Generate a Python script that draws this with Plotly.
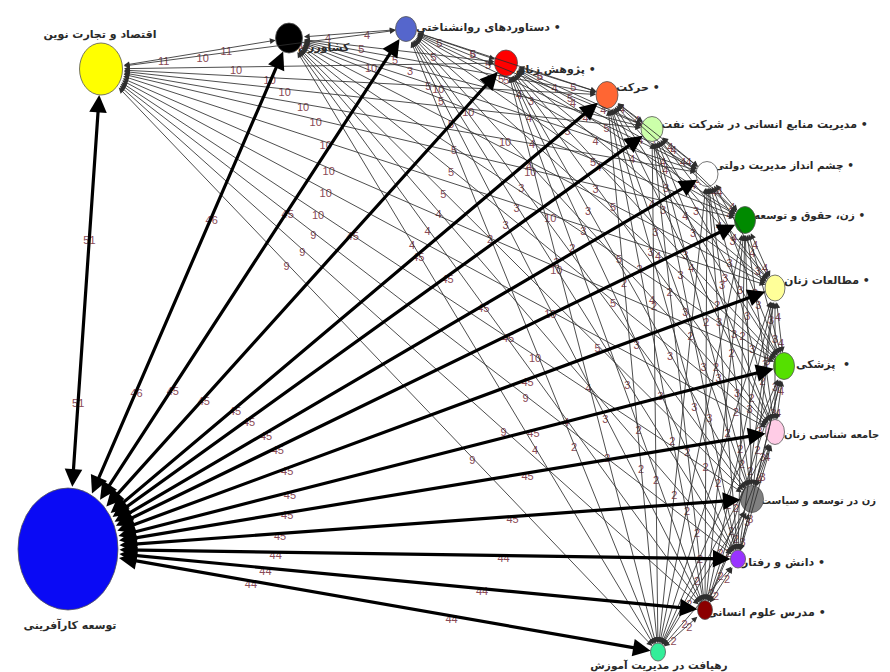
import math
import plotly.graph_objects as go

# ---------------- data ----------------
node_names = [
    "توسعه کارآفرینی",
    "اقتصاد و تجارت نوین",
    "کشاورزی",
    "دستاوردهای روانشناختی",
    "پژوهش زنان",
    "حرکت",
    "مدیریت منابع انسانی در شرکت نفت",
    "چشم انداز مدیریت دولتی",
    "زن، حقوق و توسعه",
    "مطالعات زنان",
    "پزشکی",
    "جامعه شناسی زنان",
    "زن در توسعه و سیاست",
    "دانش و رفتار",
    "مدرس علوم انسانی",
    "رهیافت در مدیریت آموزش",
]
node_suffix = ["", "", "", " •", " •", " •", " •", " •", " •", " •",
               "\u00a0\u00a0•", " •", "", " •", " •", ""]

# weights of the edges between the hub (node 0) and nodes 1..15
hub_weights = [51, 46, 45, 45, 45, 45, 45, 45, 45, 45, 45, 45, 44, 44, 44]

# weights between nodes 1..15 (upper triangle, row i lists i -> i+1 ... 15)
pair_weights = [
    [11, 10, 10, 10, 10, 10, 10, 10, 10, 10, 10, 9, 9, 9],
    [4, 5, 5, 3, 5, 5, 5, 5, 5, 5, 4, 4, 4],
    [5, 5, 5, 5, 4, 4, 4, 4, 3, 3, 3, 2],
    [5, 4, 4, 4, 4, 4, 3, 3, 3, 2, 2],
    [4, 4, 4, 4, 3, 3, 3, 3, 2, 2],
    [4, 4, 4, 3, 3, 3, 3, 2, 2],
    [4, 4, 3, 3, 3, 2, 2, 2],
    [4, 3, 3, 3, 2, 2, 2],
    [4, 3, 3, 2, 2, 2],
    [4, 3, 2, 2, 2],
    [4, 3, 2, 2],
    [3, 2, 2],
    [2, 2],
    [2],
]

# ---------------- layout / style ----------------
node_x = [60, 93, 281, 398, 498, 599, 644, 699, 737, 767, 776, 767, 744, 730, 697, 650]
node_y = [541, 61, 30, 21, 55, 87, 121, 166, 212, 280, 358, 424, 491, 551, 602, 644]
node_w = [100, 43, 27, 21, 23, 22, 22, 22, 21, 20, 21, 19, 23, 15, 15, 15]
node_h = [122, 52, 30, 25, 26, 27, 25, 25, 27, 26, 27, 25, 27, 18, 19, 18]
node_colors = ["#0a0af5", "#ffff00", "#000000", "#5566cc", "#ff0000", "#ff6633",
               "#ccffaa", "#ffffff", "#008a00", "#ffff99", "#55e000", "#ffcce6",
               "#808080", "#9933ff", "#8b0000", "#33ee99"]
label_x = [62, 92, 290, 408, 508, 608, 653, 706, 746, 776, 788, 776, 753, 734, 699, 651]
label_y = [618, 27, 40, 20, 62, 80, 117, 158, 208, 273, 357, 427, 493, 555, 605, 658]
label_size = [11, 11, 11, 11, 11, 11, 11, 10.5, 10.5, 11, 11, 10, 10, 11, 11, 10.5]
label_pos = ["middle center", "middle center"] + ["middle right"] * 13 + ["middle center"]

EDGE_LABEL_COLOR = "#8a4a56"


def radius(i, dx, dy):
    a = node_w[i] / 2.0
    b = node_h[i] / 2.0
    d = math.hypot(dx, dy)
    c, s = dx / d, dy / d
    return a * b / math.sqrt((b * c) ** 2 + (a * s) ** 2)


annotations = []
lab_x, lab_y, lab_t = [], [], []


def add_edge(i, j, w, thick):
    dx = node_x[j] - node_x[i]
    dy = node_y[j] - node_y[i]
    rs = radius(i, dx, dy)
    rt = radius(j, -dx, -dy)
    annotations.append(dict(
        x=node_x[j], y=node_y[j], ax=node_x[i], ay=node_y[i],
        xref="x", yref="y", axref="x", ayref="y", text="",
        showarrow=True, arrowside="end+start",
        arrowhead=2, startarrowhead=2,
        arrowsize=1.1 if thick else 1.35,
        startarrowsize=1.1 if thick else 1.35,
        arrowwidth=3.2 if thick else 0.85,
        arrowcolor="#000000" if thick else "#2e2e2e",
        standoff=rt, startstandoff=rs,
    ))
    fracs = (0.31, 0.65) if thick else (1 / 3, 2 / 3)
    for f in fracs:
        lab_x.append(node_x[i] + f * dx)
        lab_y.append(node_y[i] + f * dy + 4)
        lab_t.append(str(w))


# thin edges first (drawn below thick ones)
for r, row in enumerate(pair_weights):
    i = r + 1
    for k, w in enumerate(row):
        j = i + 1 + k
        add_edge(i, j, w, False)

for k, w in enumerate(hub_weights):
    add_edge(0, k + 1, w, True)

shapes = []
for i in range(len(node_names)):
    shapes.append(dict(
        type="circle", xref="x", yref="y", layer="above",
        x0=node_x[i] - node_w[i] / 2, x1=node_x[i] + node_w[i] / 2,
        y0=node_y[i] - node_h[i] / 2, y1=node_y[i] + node_h[i] / 2,
        fillcolor=node_colors[i], line=dict(color="#555555", width=0.8),
    ))

fig = go.Figure()
fig.add_trace(go.Scatter(
    x=lab_x, y=lab_y, text=lab_t, mode="text",
    textfont=dict(family="Liberation Sans", size=11, color=EDGE_LABEL_COLOR),
    hoverinfo="skip", showlegend=False, cliponaxis=False,
))
node_text = ["<b>" + n + s + "</b>" for n, s in zip(node_names, node_suffix)]
fig.add_trace(go.Scatter(
    x=label_x, y=label_y, text=node_text, mode="text",
    textposition=label_pos,
    textfont=dict(family="DejaVu Sans", size=label_size, color="#2a2a2a"),
    hoverinfo="text", hovertext=node_names, showlegend=False, cliponaxis=False,
))

fig.update_layout(
    width=890, height=672,
    margin=dict(l=0, r=0, t=0, b=0),
    paper_bgcolor="white", plot_bgcolor="white",
    xaxis=dict(range=[0, 890], visible=False, fixedrange=True),
    yaxis=dict(range=[672, 0], visible=False, fixedrange=True),
    shapes=shapes, annotations=annotations,
)

fig.write_html("out.html")
